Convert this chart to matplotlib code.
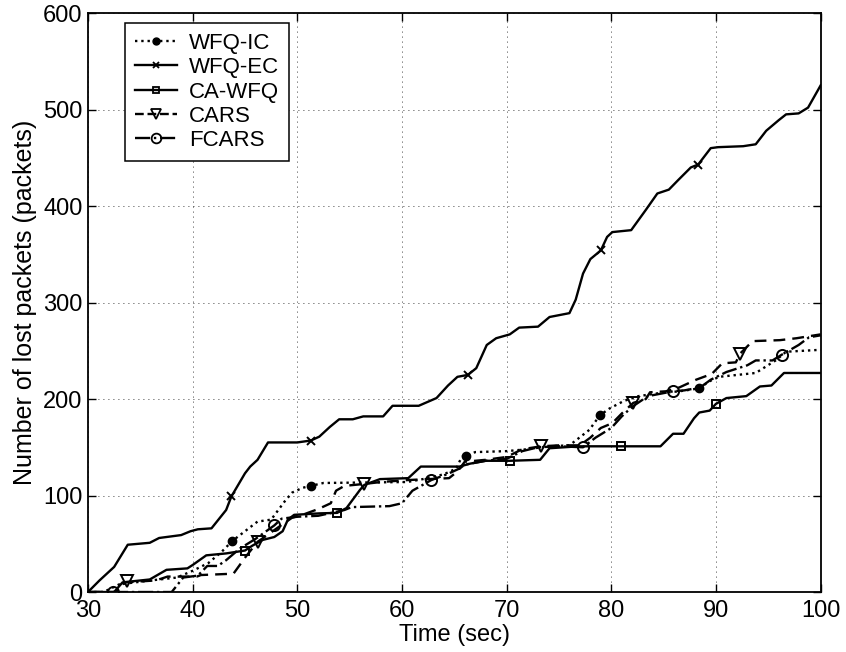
import matplotlib
matplotlib.use("Agg")
import matplotlib.pyplot as plt
from matplotlib.lines import Line2D

plt.rcParams['font.family'] = ['Liberation Sans', 'DejaVu Sans']

# WFQ-IC
ic_t = [30, 31.5, 33, 36, 38.5, 40, 41.5, 42.8, 43.8, 45, 46.2, 47.5, 48.8, 49.5, 50.5,
        51.3, 52.5, 60.5, 62, 64, 65.2, 65.7, 66.1, 67, 70, 72, 74, 76, 76.6, 77.9, 78.9,
        79.8, 81.2, 82.6, 84.5, 86.5, 88.4, 89.3, 90.3, 93.8, 95.7, 96.7, 100]
ic_v = [0, 0, 8, 12, 15, 22, 30, 42, 53, 63, 73, 75, 94, 103, 108,
        110, 113, 114, 117, 122, 128, 140, 141, 145, 146, 148, 151, 152, 157, 168, 183,
        190, 198, 203, 206, 208, 211, 218, 223, 227, 240, 249, 251]
ic_mt = [43.8, 51.3, 66.1, 78.9, 88.4]
ic_mv = [53, 110, 141, 183, 211]

# WFQ-EC
ec_t = [30, 31.1, 32.5, 33.8, 35.9, 36.8, 38.9, 39.8, 40.5, 41.8, 43.2, 43.7, 45, 45.5,
        46.2, 47.2, 50, 51.3, 52.1, 53.1, 54, 55.3, 56.3, 58.2, 59.1, 61.6, 63.3, 64.4,
        65.3, 66.3, 67.1, 68.1, 69.0, 70.3, 71.2, 73, 74.1, 76, 76.6, 77.3, 78, 79.0,
        79.6, 80.1, 81.9, 83.3, 84.4, 85.5, 86.4, 87.6, 88.3, 89.5, 90.2, 92.6, 93.8,
        94.8, 96, 96.7, 97.9, 98.8, 100]
ec_v = [0, 12, 26, 49, 51, 56, 59, 63, 65, 66, 85, 99, 123, 130,
        137, 155, 155, 157, 161, 171, 179, 179, 182, 182, 193, 193, 201, 214,
        223, 225, 232, 256, 263, 267, 274, 275, 285, 289, 303, 330, 345, 354,
        368, 373, 375, 396, 413, 417, 427, 440, 443, 460, 461, 462, 464,
        478, 489, 495, 496, 502, 525]
ec_mt = [43.7, 51.3, 66.3, 79.0, 88.3]
ec_mv = [99, 157, 225, 354, 443]

# CA-WFQ
ca_t = [30, 32.5, 33.3, 35.9, 37.5, 39.5, 40, 41.3, 43.2, 45.0, 45.7, 46.7, 47.8, 48.6,
        49.1, 49.7, 52.1, 53.8, 54.7, 56, 56.4, 57.9, 60.6, 61.8, 65.5, 66.5, 68, 70.3,
        73.2, 74.1, 76.9, 80.9, 84.7, 85.9, 86.9, 87.9, 88.4, 89.4, 90.0, 91, 92.9, 94.2,
        95.3, 96.5, 100]
ca_v = [0, 0, 10, 13, 23, 24.5, 28, 38, 40, 43, 48, 54, 57, 63,
        75, 80, 81.5, 82, 87, 106, 111, 117, 118, 130, 130, 133, 136, 136,
        137, 149, 151, 151, 151, 164, 164, 180, 186, 188, 195, 201, 203, 213,
        214, 227, 227]
ca_mt = [45.0, 53.8, 70.3, 80.9, 90.0]
ca_mv = [43, 82, 136, 151, 195]

# CARS
cars_t = [30, 32.6, 33.5, 36.5, 37.6, 40.4, 40.8, 43.9, 45.1, 46.2, 47, 48.3, 49.5, 50.5,
          52, 53.2, 53.7, 54.5, 56.4, 58, 60.5, 64.5, 65.3, 66, 68, 70, 71.5, 73.3, 75,
          77, 78, 79, 80.1, 81, 82.1, 83.3, 83.7, 85.2, 86.5, 88.1, 89.6, 90.6, 91.9,
          92.3, 93.5, 96.1, 97.7, 100]
cars_v = [0, 0, 10, 12, 16, 16, 17.6, 19, 37, 52, 58, 68, 77, 80,
          86, 92, 105, 110, 112, 114, 116, 118, 125, 135, 137, 140, 148, 151, 152,
          152, 160, 170, 175, 185, 196, 200, 207, 208, 212, 220, 226, 237, 238,
          247, 260, 261, 263, 267]
cars_mt = [33.7, 46.2, 56.4, 73.3, 82.1, 92.3]
cars_mv = [11, 52, 112, 151, 196, 247]

# FCARS
fc_t = [30, 38, 39.1, 40.5, 41.4, 42.4, 43.2, 44.5, 46, 47.8, 48.5, 50, 52, 54.5, 55.2,
        58.8, 60, 61, 62.8, 64.3, 65.5, 66, 68, 70, 71.5, 73, 75, 77.3, 78.5, 80, 81, 82,
        83.5, 85.9, 87, 88.5, 89.5, 91, 93, 93.8, 95.4, 96.3, 97.9, 98.9, 100]
fc_v = [0, 0, 15, 17, 27, 27, 33, 45, 55, 69, 76, 78, 79, 85, 88,
        89, 92, 105, 116, 122, 128, 132, 136, 138, 146, 150, 151, 150, 160, 170, 182, 192,
        203, 208, 209, 212, 220, 228, 235, 240, 240, 246, 256, 264, 266]
fc_mt = [32.4, 47.8, 62.8, 77.3, 85.9, 96.3]
fc_mv = [0.5, 69, 116, 150, 208, 246]

fig = plt.figure(figsize=(8.46, 6.52), dpi=100)
ax = fig.add_axes([0.104, 0.092, 0.866, 0.888])

lw = 1.7
ax.plot(ic_t, ic_v, color='k', ls=':', lw=lw)
ax.plot(ic_mt, ic_mv, color='k', ls='none', marker='o', ms=6, mfc='k')
ax.plot(ec_t, ec_v, color='k', ls='-', lw=lw)
ax.plot(ec_mt, ec_mv, color='k', ls='none', marker='x', ms=6, mew=1.4)
ax.plot(ca_t, ca_v, color='k', ls='-', lw=lw)
ax.plot(ca_mt, ca_mv, color='k', ls='none', marker='s', ms=6, mfc='none', mew=1.4)
ax.plot(cars_t, cars_v, color='k', ls=(0, (5, 3)), lw=lw)
ax.plot(cars_mt, cars_mv, color='k', ls='none', marker='v', ms=8, mfc='none', mew=1.4)
ax.plot(fc_t, fc_v, color='k', ls='-.', lw=lw)
ax.plot(fc_mt, fc_mv, color='k', ls='none', marker='o', ms=8, mfc='none', mew=1.4)

ax.set_xlim(30, 100)
ax.set_ylim(0, 600)
ax.set_xticks(range(30, 101, 10))
ax.set_yticks(range(0, 601, 100))
ax.tick_params(direction='in', top=True, right=True, labelsize=17, length=6, width=1)
ax.tick_params(axis='x', pad=6)
ax.tick_params(axis='y', pad=4)
ax.grid(True, color='k', ls=(0, (1, 5)), lw=0.6)
for s in ax.spines.values():
    s.set_linewidth(1.3)
ax.set_xlabel('Time (sec)', fontsize=17, labelpad=1)
ax.set_ylabel('Number of lost packets (packets)', fontsize=18, labelpad=4)

handles = [
    Line2D([], [], color='k', ls=':', lw=lw, marker='o', ms=5, mfc='k'),
    Line2D([], [], color='k', ls='-', lw=lw, marker='x', ms=5, mew=1.3),
    Line2D([], [], color='k', ls='-', lw=lw, marker='s', ms=5, mfc='none', mew=1.3),
    Line2D([], [], color='k', ls='--', lw=lw, marker='v', ms=7, mfc='none', mew=1.3),
    Line2D([], [], color='k', ls='-.', lw=lw, marker='o', ms=7, mfc='none', mew=1.3),
]
labels = ['WFQ-IC', 'WFQ-EC', 'CA-WFQ', 'CARS', 'FCARS']
leg = ax.legend(handles, labels, loc='upper left', bbox_to_anchor=(0.05, 0.983),
                fontsize=16, fancybox=False, framealpha=1, edgecolor='k',
                handlelength=1.9, labelspacing=0.15, borderpad=0.45,
                handletextpad=0.55, borderaxespad=0)
leg.get_frame().set_linewidth(1.1)

fig.savefig('out.png', dpi=100)
